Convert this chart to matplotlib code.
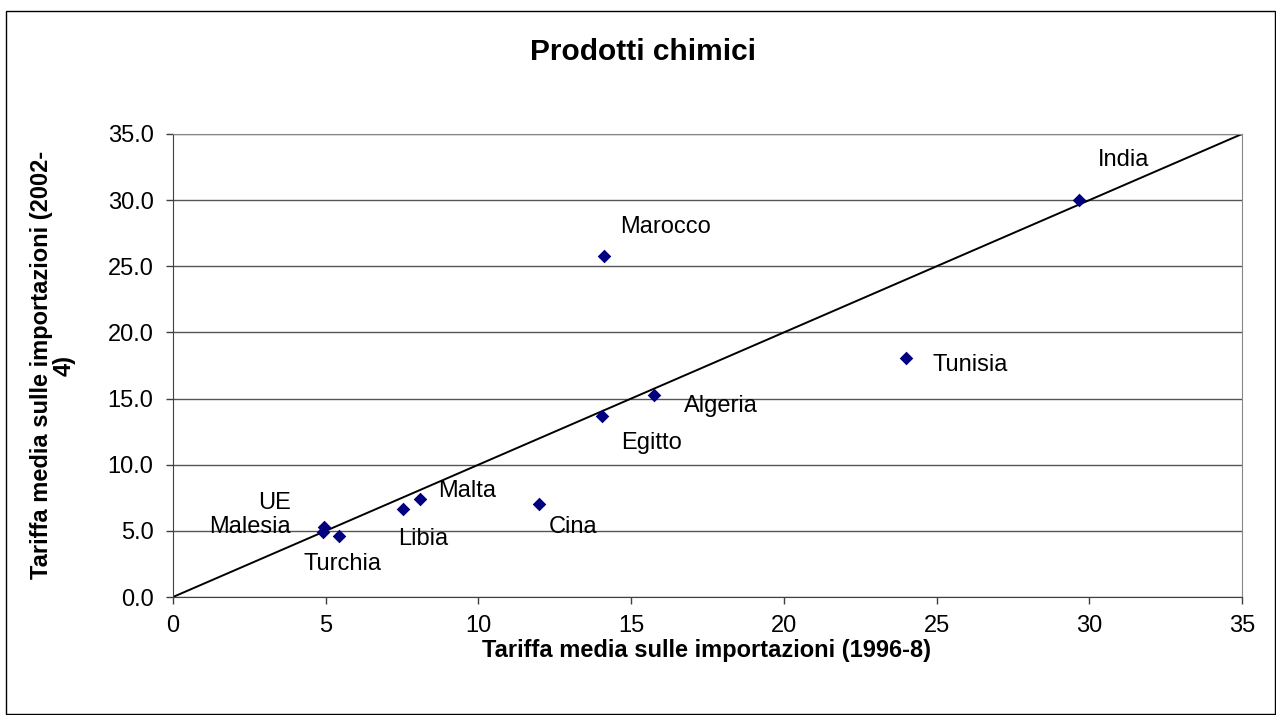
import matplotlib
matplotlib.use("Agg")
from matplotlib import pyplot as plt
from matplotlib.patches import Rectangle

plt.rcParams['font.family'] = ['Liberation Sans', 'DejaVu Sans']

# average import tariffs per country: 1996-8 (x) vs 2002-4 (y)
countries = ['India', 'Marocco', 'Tunisia', 'Algeria', 'Egitto', 'Cina',
             'Malta', 'Libia', 'UE', 'Malesia', 'Turchia']
tariff_9698 = [29.67, 14.11, 24.0, 15.75, 14.05, 11.98, 8.09, 7.53, 4.95, 4.92, 5.42]
tariff_0204 = [30.0, 25.8, 18.06, 15.27, 13.68, 7.03, 7.41, 6.65, 5.3, 4.94, 4.63]

# where each label sits relative to its point (pixels) and how it is aligned
label_pos = {
    'India': (19, 40, 'left'),
    'Marocco': (16, 29, 'left'),
    'Tunisia': (26, -7, 'left'),
    'Algeria': (30, -11, 'left'),
    'Egitto': (19, -27, 'left'),
    'Cina': (10, -23, 'left'),
    'Malta': (18, 8, 'left'),
    'Libia': (-5, -30, 'left'),
    'UE': (-33, 24, 'right'),
    'Malesia': (-33, 5, 'right'),
    'Turchia': (-35, -28, 'left'),
}

W, H = 1276, 715
fig = plt.figure(figsize=(W / 100, H / 100), dpi=100)
ax = fig.add_axes([173 / W, 1 - 597 / H, (1242 - 173) / W, (597 - 134) / H])

# 45 degree reference line
ax.plot([0, 35], [0, 35], color='black', lw=1.4, zorder=2)
ax.scatter(tariff_9698, tariff_0204, marker='D', s=48, color='#000080', zorder=3, linewidths=0)

for name, xv, yv in zip(countries, tariff_9698, tariff_0204):
    dx, dy, ha = label_pos[name]
    ax.annotate(name, (xv, yv), xytext=(dx, dy), textcoords='offset pixels',
                ha=ha, va='center', fontsize=17)

ax.set_xlim(0, 35)
ax.set_ylim(0, 35)
ax.set_xticks(range(0, 36, 5))
ax.set_yticks(range(0, 36, 5))
ax.set_yticklabels(['%.1f' % v for v in range(0, 36, 5)])
ax.tick_params(direction='out', length=5, width=1, color='#404040', labelsize=17)
ax.tick_params(axis='y', pad=9)
ax.tick_params(axis='x', pad=8)
ax.yaxis.grid(True, color='#555555', lw=1)
ax.set_axisbelow(True)
for side in ['left', 'bottom']:
    ax.spines[side].set_color('#404040')
for side in ['top', 'right']:
    ax.spines[side].set_color('#888888')

fig.text(643 / W, 1 - 52 / H, 'Prodotti chimici', ha='center', va='center',
         fontsize=21.5, fontweight='bold')
fig.text(707 / W, 1 - 650 / H, 'Tariffa media sulle importazioni (1996-8)',
         ha='center', va='center', fontsize=17, fontweight='bold')
fig.text(53 / W, 1 - 365 / H, 'Tariffa media sulle importazioni (2002-\n4)',
         ha='center', va='center', rotation=90, fontsize=17, fontweight='bold',
         multialignment='center', linespacing=0.95)

# chart border
fig.patches.append(Rectangle((6 / W, 1 / H), (1275 - 6) / W, (714 - 11) / H,
                             transform=fig.transFigure, fill=False, ec='black', lw=1))

fig.savefig("out.png", dpi=100)
